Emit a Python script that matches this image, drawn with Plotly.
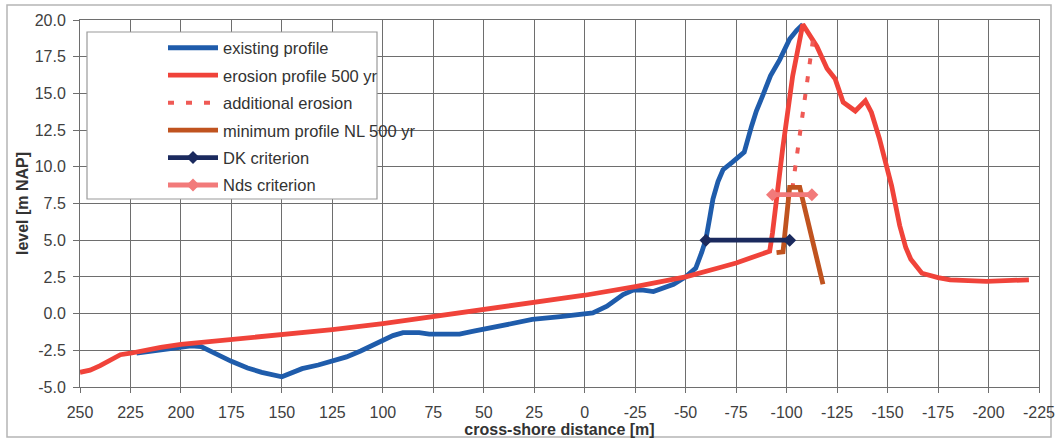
import plotly.graph_objects as go

# Cross-shore profiles (x: cross-shore distance [m], y: level [m NAP])
existing_x = [222, 215, 205, 195, 190, 183, 175, 167, 160, 150, 145, 140, 132, 125,
              118, 111, 105, 100, 95, 90, 82, 77, 70, 62, 55, 48, 38, 26, 12, 1,
              -4, -11, -19, -24, -29, -34, -40, -44, -50, -55, -58, -60, -62, -63.5,
              -66, -68.5, -73, -79, -82.7, -85, -88, -92, -96.6, -101.5, -105, -108]
existing_y = [-2.7, -2.55, -2.35, -2.2, -2.25, -2.75, -3.25, -3.7, -4.0, -4.3, -4.05,
              -3.75, -3.5, -3.25, -2.95, -2.55, -2.15, -1.8, -1.5, -1.3, -1.3, -1.4,
              -1.4, -1.4, -1.2, -1.0, -0.75, -0.4, -0.2, -0.07, 0.05, 0.5, 1.3, 1.6,
              1.6, 1.5, 1.75, 2.0, 2.5, 3.1, 4.2, 5.05, 6.6, 7.8, 9.0, 9.8, 10.3, 11.0,
              12.8, 13.8, 14.8, 16.2, 17.3, 18.7, 19.3, 19.7]

erosion_x = [250, 245, 240, 235, 230, 225, 217, 210, 200, 175, 150, 125, 100, 75, 50,
             25, 0, -25, -50, -67, -75, -91.6, -93, -98, -103, -108, -115, -120, -124,
             -128, -134, -139, -142, -146, -152, -156, -159, -161.5, -167, -175, -181,
             -199, -220]
erosion_y = [-4.0, -3.85, -3.55, -3.2, -2.8, -2.7, -2.45, -2.3, -2.1, -1.78, -1.43,
             -1.09, -0.68, -0.18, 0.33, 0.77, 1.25, 1.84, 2.5, 3.14, 3.45, 4.25, 5.5,
             11.2, 16.2, 19.7, 18.2, 16.7, 16.0, 14.4, 13.8, 14.5, 13.7, 11.9, 8.7,
             6.0, 4.5, 3.7, 2.75, 2.45, 2.3, 2.2, 2.3]

additional_x = [-113, -103]
additional_y = [18.6, 8.7]

minimum_x = [-95, -98.2, -101.5, -106.5, -118]
minimum_y = [4.15, 4.2, 8.6, 8.6, 2.0]

dk_x = [-60, -101.5]
dk_y = [5.0, 5.0]

nds_x = [-93, -112.5]
nds_y = [8.1, 8.1]

x_ticks = list(range(250, -226, -25))
y_ticks = [-5.0, -2.5, 0.0, 2.5, 5.0, 7.5, 10.0, 12.5, 15.0, 17.5, 20.0]

FONT = "Liberation Sans, Arial, sans-serif"
GRID = "#6e6e6e"

fig = go.Figure()
fig.add_trace(go.Scatter(x=existing_x, y=existing_y, mode="lines", name="existing profile",
                         legendgroup="a", line=dict(color="#1f5cab", width=4.8)))
fig.add_trace(go.Scatter(x=erosion_x, y=erosion_y, mode="lines", name="erosion profile 500 yr",
                         legendgroup="b", line=dict(color="#f0433a", width=4.8)))
fig.add_trace(go.Scatter(x=additional_x, y=additional_y, mode="lines", name="additional erosion",
                         legendgroup="c", line=dict(color="#ef5a55", width=4, dash="6px,12px")))
fig.add_trace(go.Scatter(x=minimum_x, y=minimum_y, mode="lines", name="minimum profile NL 500 yr",
                         legendgroup="d", line=dict(color="#c0531f", width=4.8)))
fig.add_trace(go.Scatter(x=dk_x, y=dk_y, mode="lines+markers", name="DK criterion",
                         legendgroup="e", line=dict(color="#1b2a5e", width=4.8),
                         marker=dict(symbol="diamond", size=10, color="#1b2a5e")))
fig.add_trace(go.Scatter(x=nds_x, y=nds_y, mode="lines+markers", name="Nds criterion",
                         legendgroup="f", line=dict(color="#f27a7a", width=4.8),
                         marker=dict(symbol="diamond", size=10, color="#f27a7a")))

# plot area spans pixels 80..1039 horizontally and 20..387 vertically
pw, ph = 959.0, 367.0
def px(x):
    return (x - 80) / pw
def py(y):
    return (387 - y) / ph

# outer chart frame
fig.add_shape(type="rect", xref="paper", yref="paper", x0=px(7), x1=px(1051), y0=py(5), y1=py(437),
              line=dict(color="#b5b5b5", width=1.5), fillcolor="rgba(0,0,0,0)", layer="below")
# legend box
fig.add_shape(type="rect", xref="paper", yref="paper", x0=px(87), x1=px(377), y0=py(32), y1=py(199),
              line=dict(color="#9a9a9a", width=1.2), fillcolor="white", layer="above")

fig.update_layout(
    width=1057, height=441,
    margin=dict(l=80, r=18, t=20, b=54),
    paper_bgcolor="white", plot_bgcolor="white",
    font=dict(family=FONT, size=16, color="#404040"),
    showlegend=True,
    legend=dict(x=px(163), y=py(30.5), xanchor="left", yanchor="top",
                bgcolor="rgba(0,0,0,0)", borderwidth=0, tracegroupgap=3, itemwidth=50,
                font=dict(family=FONT, size=16.5, color="#333333")),
    xaxis=dict(range=[250, -225], tickvals=x_ticks, ticktext=[str(v) for v in x_ticks],
               showgrid=True, gridcolor=GRID, gridwidth=1, zeroline=False,
               showline=True, linecolor=GRID, linewidth=1, mirror=True, automargin=False,
               ticks="outside", ticklen=5, tickcolor=GRID, ticklabelstandoff=6,
               title=dict(text="<b>cross-shore distance [m]</b>", standoff=2,
                          font=dict(family=FONT, size=16, color="#333333"))),
    yaxis=dict(range=[-5, 20], tickvals=y_ticks, ticktext=[f"{v:.1f}" for v in y_ticks],
               showgrid=True, gridcolor=GRID, gridwidth=1, zeroline=False,
               showline=True, linecolor=GRID, linewidth=1, mirror=True, automargin=False,
               ticks="outside", ticklen=6, tickcolor=GRID, ticklabelstandoff=4,
               title=dict(text="<b>level [m NAP]</b>", standoff=2,
                          font=dict(family=FONT, size=16, color="#333333"))),
)

fig.write_html("out.html")
